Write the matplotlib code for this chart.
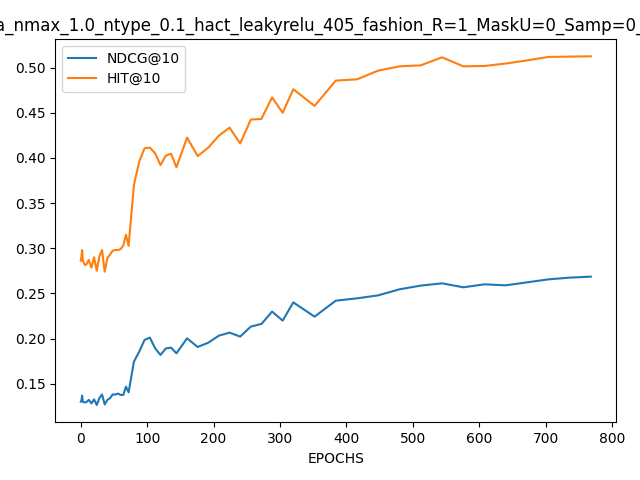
import matplotlib
matplotlib.use('Agg')
import matplotlib.pyplot as plt

epochs = [0, 1, 2, 3, 4, 6, 8, 12, 16, 20, 24, 28, 32, 36, 40, 44, 48, 52, 56, 60, 64, 68, 72,
          80, 88, 96, 104, 112, 120, 128, 136, 144,
          160, 176, 192, 208, 224, 240, 256, 272, 288, 304, 320,
          352, 384, 416, 448, 480, 512, 544, 576, 608, 640, 672, 704, 736, 768]

ndcg = [0.130, 0.1315, 0.1367, 0.130, 0.1295, 0.1293, 0.1293, 0.132, 0.1282, 0.1326, 0.1264, 0.134,
        0.138, 0.127, 0.132, 0.134, 0.138, 0.138, 0.139, 0.1375, 0.1375, 0.1467, 0.1404,
        0.1744, 0.1855, 0.1984, 0.201, 0.1891, 0.1818, 0.189, 0.1899, 0.1836,
        0.2002, 0.1906, 0.1954, 0.2032, 0.2065, 0.2021, 0.2132, 0.2161, 0.2298, 0.2198, 0.240,
        0.2242, 0.2419, 0.2445, 0.2478, 0.2545, 0.2586, 0.2611, 0.2567, 0.260, 0.2589, 0.2622,
        0.2655, 0.2674, 0.2685]

hit = [0.286, 0.291, 0.298, 0.287, 0.285, 0.2815, 0.2815, 0.287, 0.2785, 0.290, 0.275, 0.291,
       0.298, 0.274, 0.289, 0.293, 0.2973, 0.298, 0.298, 0.299, 0.303, 0.315, 0.3025,
       0.370, 0.396, 0.4107, 0.4114, 0.405, 0.392, 0.4025, 0.4047, 0.3896,
       0.4225, 0.402, 0.4114, 0.4247, 0.4335, 0.416, 0.4424, 0.4432, 0.467, 0.450, 0.476,
       0.4576, 0.4856, 0.487, 0.4967, 0.5014, 0.5025, 0.5114, 0.5014, 0.5018, 0.5045, 0.508,
       0.5118, 0.5122, 0.5125]

# title is wider than the figure, so both ends get clipped (as in the original run)
title = 'G_alpha_nmax_1.0_ntype_0.1_hact_leakyrelu_405_fashion_R=1_MaskU=0_Samp=0_neg_10_ep'

fig, ax = plt.subplots(figsize=(6.4, 4.8), dpi=100)
ax.plot(epochs, ndcg, label='NDCG@10')
ax.plot(epochs, hit, label='HIT@10')
ax.set_xlabel('EPOCHS')
ax.set_title(title)
ax.legend(loc='upper left')
fig.subplots_adjust(left=0.0864, right=0.963, bottom=0.120, top=0.919)
fig.savefig('out.png')
